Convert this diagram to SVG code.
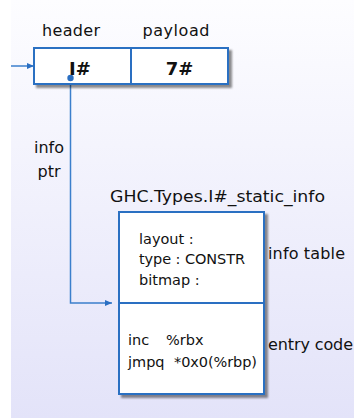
<svg xmlns="http://www.w3.org/2000/svg" width="354" height="418" viewBox="0 0 354 418">
  <defs>
    <linearGradient id="bg" x1="0" y1="0" x2="0" y2="1">
      <stop offset="0" stop-color="#fdfdff"/>
      <stop offset="1" stop-color="#e3e3f9"/>
    </linearGradient>
    <filter id="shadow" x="-10%" y="-10%" width="130%" height="130%">
      <feGaussianBlur in="SourceAlpha" stdDeviation="1.2"/>
      <feOffset dx="3" dy="3" result="b"/>
      <feComponentTransfer><feFuncA type="linear" slope="0.45"/></feComponentTransfer>
      <feMerge><feMergeNode/><feMergeNode in="SourceGraphic"/></feMerge>
    </filter>
    <marker id="arrow" markerWidth="8" markerHeight="8" refX="7" refY="4" orient="auto" markerUnits="userSpaceOnUse">
      <path d="M0,1 L7,4 L0,7 Z" fill="#2a6fc2"/>
    </marker>
    <style>
      .box { fill: #ffffff; stroke: #2a6fc2; stroke-width: 2; }
      .div { stroke: #2a6fc2; stroke-width: 2; fill: none; }
      .wire { stroke: #3b7fcc; stroke-width: 1.5; fill: none; }
      .t { font-family: "DejaVu Sans", "Liberation Sans", sans-serif; fill: #111; }
      .lbl { font-size: 16px; }
      .cell { font-size: 18px; font-weight: bold; }
      .small { font-size: 14.5px; }
    </style>
  </defs>

  <!-- page background -->
  <rect x="0" y="0" width="354" height="418" fill="#ffffff"/>
  <rect x="11" y="0" width="343" height="418" fill="url(#bg)"/>

  <!-- connectors -->
  <g id="connectors">
    <line class="wire" x1="11" y1="66" x2="34" y2="66" marker-end="url(#arrow)"/>
    <polyline class="wire" points="70.5,78 70.5,303 112,303" marker-end="url(#arrow)"/>
  </g>

  <!-- closure: header + payload -->
  <g id="closure">
    <text class="t lbl" x="71" y="36" text-anchor="middle" textLength="58">header</text>
    <text class="t lbl" x="176" y="36" text-anchor="middle" textLength="67">payload</text>
    <rect class="box" x="34" y="48" width="194" height="36" filter="url(#shadow)"/>
    <line class="div" x1="131" y1="48" x2="131" y2="84"/>
    <text class="t cell" x="80" y="75" text-anchor="middle">I#</text>
    <text class="t cell" x="179.5" y="75" text-anchor="middle">7#</text>
    <circle cx="70.5" cy="78" r="3.2" fill="#2a6fc2"/>
  </g>

  <!-- info pointer label -->
  <g id="info-ptr">
    <text class="t lbl" x="49" y="153" text-anchor="middle" font-size="17">info</text>
    <text class="t lbl" x="49" y="177" text-anchor="middle" font-size="17">ptr</text>
  </g>

  <!-- static info table + entry code -->
  <g id="static-info">
    <text class="t" font-size="16" x="110" y="202" textLength="215" lengthAdjust="spacingAndGlyphs">GHC.Types.I#_static_info</text>
    <rect class="box" x="119" y="212" width="145" height="182" filter="url(#shadow)"/>
    <line class="div" x1="119" y1="303" x2="264" y2="303"/>
    <text class="t small" x="139" y="244">layout :</text>
    <text class="t small" x="139" y="264" textLength="106">type : CONSTR</text>
    <text class="t small" x="139" y="285">bitmap :</text>
    <text class="t small" x="128" y="345">inc</text>
    <text class="t small" x="166" y="345">%rbx</text>
    <text class="t small" x="128" y="367">jmpq</text>
    <text class="t small" x="174" y="367" textLength="83">*0x0(%rbp)</text>
    <text class="t lbl" x="268" y="259" textLength="77">info table</text>
    <text class="t lbl" x="268" y="350" textLength="85">entry code</text>
  </g>
</svg>
